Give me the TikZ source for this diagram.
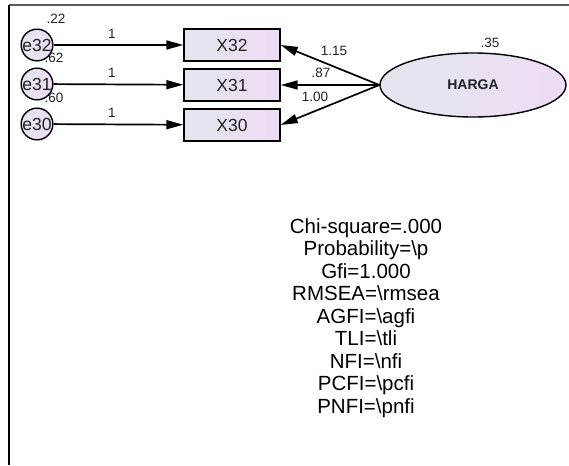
\documentclass[tikz,border=0pt]{standalone}
\usepackage{fontspec}
\setmainfont{Liberation Sans}
\usetikzlibrary{arrows.meta,shapes.geometric}
\definecolor{shadeL}{HTML}{E4E6EF}
\definecolor{shadeR}{HTML}{EEDCF4}
\definecolor{txt}{HTML}{222222}
\tikzset{
  errvar/.style={circle,draw=black,line width=1.4pt,left color=shadeL,right color=shadeR,
    minimum size=31pt,inner sep=0pt,font=\fontsize{17.5}{17.5}\selectfont,text=txt},
  obsbox/.style={rectangle,draw=black,line width=1.4pt,left color=shadeL,right color=shadeR,
    minimum width=96pt,minimum height=32pt,inner sep=0pt,font=\fontsize{17.5}{17.5}\selectfont,text=txt},
  latvar/.style={ellipse,draw=black,line width=1.4pt,left color=shadeL,right color=shadeR,
    minimum width=186pt,minimum height=64pt,inner sep=0pt,font=\bfseries\fontsize{14}{14}\selectfont,text=txt},
  path/.style={line width=1.7pt,-{Triangle[length=17pt,width=9pt]}},
  est/.style={font=\fontsize{13.5}{13.5}\selectfont,text=txt,inner sep=0pt},
  fit/.style={font=\fontsize{20.5}{22.5}\selectfont,text=black,align=center,inner sep=0pt}
}
\begin{document}
\begin{tikzpicture}[x=1pt,y=-1pt]
\useasboundingbox (0,0) rectangle (569,465);
\fill[white] (0,0) rectangle (569,465);
% frame
\draw[gray!70!black,line width=1.2pt] (9,5) -- (569,5);
\draw[black,line width=1.4pt] (9,5) -- (9,465);

% error terms
\node[errvar] (e32) at (37,45) {e32};
\node[errvar] (e31) at (37,84) {e31};
\node[errvar] (e30) at (37,124) {e30};

% observed variables
\node[obsbox] (x32) at (232,45) {X32};
\node[obsbox] (x31) at (232,85) {X31};
\node[obsbox] (x30) at (232,125) {X30};

% latent variable
\node[latvar] (harga) at (473,85) {HARGA};

% variances
\node[est] at (56,19) {.22};
\node[est] at (54,58) {.62};
\node[est] at (54,98) {.60};
\node[est] at (490,43) {.35};

% error paths
\draw[path] (e32) -- (x32) node[est,pos=0.45,above=6pt] {1};
\draw[path] (e31) -- (x31) node[est,pos=0.45,above=6pt] {1};
\draw[path] (e30) -- (x30) node[est,pos=0.45,above=6pt] {1};

% loadings
\coordinate (hl) at (harga.west);
\draw[path] (hl) -- (x32.east);
\draw[path] (hl) -- (x31.east);
\draw[path] (hl) -- (x30.east);
\node[est] at (334,51) {1.15};
\node[est] at (321,73) {.87};
\node[est] at (315,97) {1.00};

% fit statistics
\node[fit,anchor=north] (stats) at (366,218) {Chi-square=.000\\Probability=\textbackslash p\\Gfi=1.000\\RMSEA=\textbackslash rmsea\\AGFI=\textbackslash agfi\\TLI=\textbackslash tli\\NFI=\textbackslash nfi\\PCFI=\textbackslash pcfi\\PNFI=\textbackslash pnfi};
\end{tikzpicture}
\end{document}
